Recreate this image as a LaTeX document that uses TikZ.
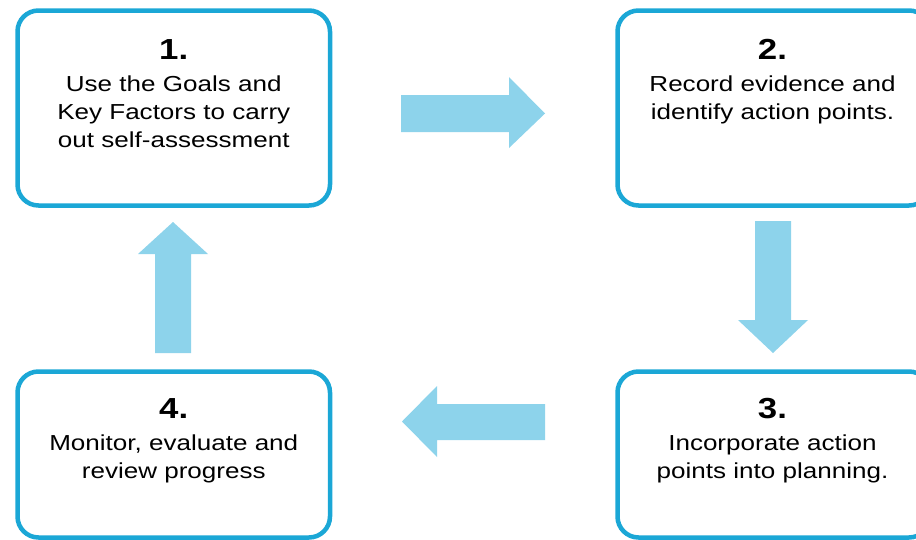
\documentclass[tikz,border=0pt]{standalone}
\usepackage{fontspec}
\setmainfont{Liberation Sans}[FakeStretch=1.2]
\definecolor{boxblue}{RGB}{27,167,214}
\definecolor{arrowblue}{RGB}{141,211,235}
\begin{document}
\begin{tikzpicture}[x=1pt,y=-1pt,
  stepbox/.style={draw=boxblue, line width=4.5pt, rounded corners=21pt, fill=white,
                  minimum width=312.5pt, inner sep=0pt},
  numtext/.style={font=\bfseries\fontsize{29}{30}\selectfont, anchor=base, inner sep=0pt},
  bodytext/.style={font=\fontsize{21.7}{28}\selectfont, anchor=base, align=center, inner sep=0pt},
  bigarrow/.style={fill=arrowblue, draw=none}]
\useasboundingbox (0,0) rectangle (916,539);
\clip (0,0) rectangle (916,539);

% boxes
\node[stepbox, minimum height=195pt] (b1) at (173.75,108) {};
\node[stepbox, minimum height=195pt] (b2) at (773.75,108) {};
\node[stepbox, minimum height=166pt] (b3) at (773.75,454.5) {};
\node[stepbox, minimum height=166pt] (b4) at (173.75,454.5) {};

% texts (base anchor = baseline of last line)
\node[numtext] (n1) at (173.75,59.3) {1.};
\node[bodytext] (t1) at (173.75,147.5) {Use the Goals and\\Key Factors to carry\\out self-assessment};
\node[numtext] (n2) at (772.5,59.3) {2.};
\node[bodytext] (t2) at (772.5,119.7) {Record evidence and\\identify action points.};
\node[numtext] (n3) at (772.5,418.3) {3.};
\node[bodytext] (t3) at (772.5,478.3) {Incorporate action\\points into planning.};
\node[numtext] (n4) at (173.75,418.3) {4.};
\node[bodytext] (t4) at (173.75,478.5) {Monitor, evaluate and\\review progress};

% block arrows
\fill[bigarrow] (401,95) -- (509,95) -- (509,77) -- (545,113.5) -- (509,148) -- (509,132) -- (401,132) -- cycle;
\fill[bigarrow] (755,221) -- (791,221) -- (791,320) -- (808,320) -- (773,353) -- (738,320) -- (755,320) -- cycle;
\fill[bigarrow] (545,404) -- (437,404) -- (437,386) -- (402,421.5) -- (437,457) -- (437,440) -- (545,440) -- cycle;
\fill[bigarrow] (155,353) -- (191,353) -- (191,254) -- (208,254) -- (173,222) -- (138,254) -- (155,254) -- cycle;
\end{tikzpicture}
\end{document}
